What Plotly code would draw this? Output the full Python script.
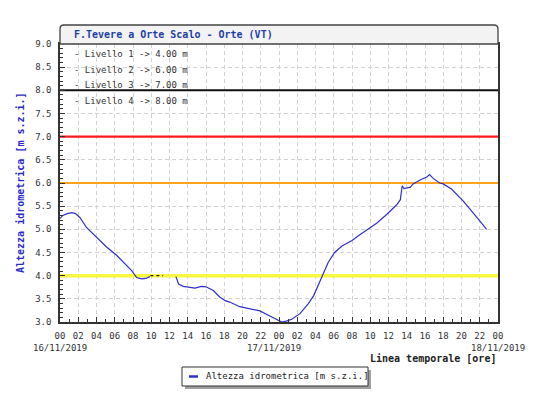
import plotly.graph_objects as go

# ---- data ----
hours_a = [0, 0.3, 0.8, 1.3, 1.7, 2.2, 2.9, 3.65, 4.4, 5.1, 6.2, 7.1, 7.85, 8.4, 8.95, 9.4, 9.85]
level_a = [5.23, 5.30, 5.34, 5.36, 5.34, 5.25, 5.04, 4.89, 4.75, 4.62, 4.44, 4.25, 4.11, 3.96, 3.93, 3.94, 3.98]

hours_gap = [9.9, 11.3]
level_gap = [4.0, 4.0]

hours_b = [12.7, 13.0, 13.5, 14.8, 15.5, 16.0, 16.8, 17.5, 18.1, 18.6, 19.7, 20.8, 21.9, 23.0,
           23.9, 24.3, 24.8, 25.4, 26.3, 27.2, 27.8, 28.5, 28.85, 29.4, 30.1, 30.9, 32.0, 32.7,
           33.8, 34.7, 35.8, 36.9, 37.3, 37.5, 37.7, 38.4, 38.7, 39.5, 40.2, 40.5, 40.9, 41.6,
           42.0, 42.9, 44.2, 45.3, 46.0, 46.75]
level_b = [3.98, 3.82, 3.77, 3.73, 3.77, 3.76, 3.68, 3.54, 3.46, 3.43, 3.33, 3.29, 3.24, 3.13,
           3.04, 3.00, 3.02, 3.06, 3.18, 3.39, 3.57, 3.86, 4.04, 4.29, 4.50, 4.64, 4.76, 4.86,
           5.00, 5.13, 5.32, 5.53, 5.64, 5.94, 5.88, 5.91, 5.98, 6.07, 6.13, 6.18, 6.10, 6.00,
           5.98, 5.87, 5.61, 5.36, 5.18, 5.00]

threshold_names = ["Livello 1", "Livello 2", "Livello 3", "Livello 4"]
threshold_values = [4.0, 6.0, 7.0, 8.0]

tick_hours = list(range(0, 49, 2))
tick_labels = ["%02d" % (h % 24) for h in tick_hours]
date_labels = ["16/11/2019", "17/11/2019", "18/11/2019"]
date_hours = [0, 24, 48]

title_text = "F.Tevere a Orte Scalo - Orte (VT)"
series_name = "Altezza idrometrica [m s.z.i.]"

# ---- figure ----
MONO = "DejaVu Sans Mono"
BLUE = "#3030cc"
threshold_colors = ["#f8f840", "#ffa31a", "#ff1a1a", "#111111"]
threshold_widths = [3.5, 2.2, 2.2, 2]

fig = go.Figure()
for v, c, w in zip(threshold_values, threshold_colors, threshold_widths):
    fig.add_trace(go.Scatter(x=[0, 48], y=[v, v], mode="lines", showlegend=False,
                             hoverinfo="skip", line=dict(color=c, width=w)))

hours = hours_a + [None] + hours_b
levels = level_a + [None] + level_b
fig.add_trace(go.Scatter(x=hours, y=levels, mode="lines", name=series_name, showlegend=False,
                         line=dict(color=BLUE, width=1.2), connectgaps=False))
fig.add_trace(go.Scatter(x=hours_gap, y=level_gap, mode="lines", showlegend=False,
                         line=dict(color="#222222", width=1.3, dash="3px,3px")))

W, H = 550, 413
ml, mr, mt, mb = 60, 52, 44, 91
pw, ph = W - ml - mr, H - mt - mb


def px_x(p):
    return (p - ml) / pw


def px_y(p):
    return (H - mb - p) / ph


shapes = []
# title box with rounded top corners
ty = 1 + 19 / ph
rx, ry = 4 / pw, 4 / ph
path = (f"M 0,1 L 0,{ty-ry} Q 0,{ty} {rx},{ty} L {1-rx},{ty} Q 1,{ty} 1,{ty-ry} L 1,1 Z")
shapes.append(dict(type="path", xref="paper", yref="paper", path=path,
                   fillcolor="#f3f3f3", line=dict(color="#444444", width=1.3)))

# legend box (shadow, box, line sample)
shapes.append(dict(type="rect", xref="paper", yref="paper", x0=px_x(185), x1=px_x(371),
                   y0=px_y(370), y1=px_y(389), fillcolor="#a0a0a0", line=dict(width=0)))
shapes.append(dict(type="rect", xref="paper", yref="paper", x0=px_x(182), x1=px_x(368),
                   y0=px_y(367), y1=px_y(386), fillcolor="white", line=dict(color="#333333", width=1)))
shapes.append(dict(type="line", xref="paper", yref="paper", x0=px_x(189), x1=px_x(198),
                   y0=px_y(376.5), y1=px_y(376.5), line=dict(color=BLUE, width=2.5)))

annotations = []
annotations.append(dict(xref="paper", yref="paper", x=px_x(204), y=px_y(376.5), text=series_name,
                        showarrow=False, xanchor="left", yanchor="middle",
                        font=dict(family=MONO, size=9, color="#222222")))
annotations.append(dict(xref="paper", yref="paper", x=12 / pw, y=1 + 9.5 / ph, text="<b>" + title_text + "</b>",
                        showarrow=False, xanchor="left", yanchor="middle",
                        font=dict(family=MONO, size=10, color="#1f3fa8")))
for i, (n, v) in enumerate(zip(threshold_names, threshold_values)):
    annotations.append(dict(xref="paper", yref="paper", x=12 / pw, y=1 - (10 + 15.5 * i) / ph,
                            text=f"- {n} -> {v:.2f} m", showarrow=False, xanchor="left",
                            yanchor="middle", font=dict(family=MONO, size=9, color="#333333")))
for d, h in zip(date_labels, date_hours):
    annotations.append(dict(xref="x", yref="paper", x=h, y=-26 / ph, text=d, showarrow=False,
                            xanchor="center", yanchor="middle", xshift=(-5 if h == 24 else 0),
                            font=dict(family=MONO, size=9, color="#333333")))
annotations.append(dict(xref="paper", yref="paper", x=1, y=-36 / ph, text="<b>Linea temporale [ore]</b>",
                        showarrow=False, xanchor="right", yanchor="middle",
                        font=dict(family=MONO, size=10, color="#222222")))
annotations.append(dict(xref="paper", yref="paper", x=-40 / pw, y=0.5, text="<b>" + series_name + "</b>",
                        showarrow=False, textangle=-90, xanchor="center", yanchor="middle",
                        font=dict(family=MONO, size=10, color="#2a2acc")))

fig.update_layout(
    width=W, height=H, margin=dict(l=ml, r=mr, t=mt, b=mb),
    paper_bgcolor="white", plot_bgcolor="white",
    shapes=shapes, annotations=annotations,
    showlegend=False, hovermode=False,
    font=dict(family=MONO, size=9, color="#333333"),
)
fig.update_xaxes(range=[0, 48], tickvals=tick_hours, ticktext=tick_labels,
                 showgrid=True, gridcolor="#d2d2d2", griddash="4px,3px", gridwidth=1,
                 ticks="inside", ticklen=5, tickcolor="#333333", tickwidth=1, ticklabelstandoff=4,
                 minor=dict(dtick=1, ticks="inside", ticklen=3, tickcolor="#333333", showgrid=False),
                 showline=True, linecolor="#333333", linewidth=1.5, mirror=True,
                 zeroline=False, tickfont=dict(family=MONO, size=9, color="#333333"))
fig.update_yaxes(range=[3.0, 9.0], dtick=0.5, tickformat=".1f",
                 showgrid=True, gridcolor="#d2d2d2", griddash="4px,3px", gridwidth=1,
                 ticks="inside", ticklen=5, tickcolor="#333333", tickwidth=1, ticklabelstandoff=5,
                 minor=dict(dtick=0.1, ticks="inside", ticklen=3, tickcolor="#333333", showgrid=False),
                 showline=True, linecolor="#333333", linewidth=1.5, mirror=True,
                 zeroline=False, tickfont=dict(family=MONO, size=9, color="#333333"))

fig.write_html("out.html")
